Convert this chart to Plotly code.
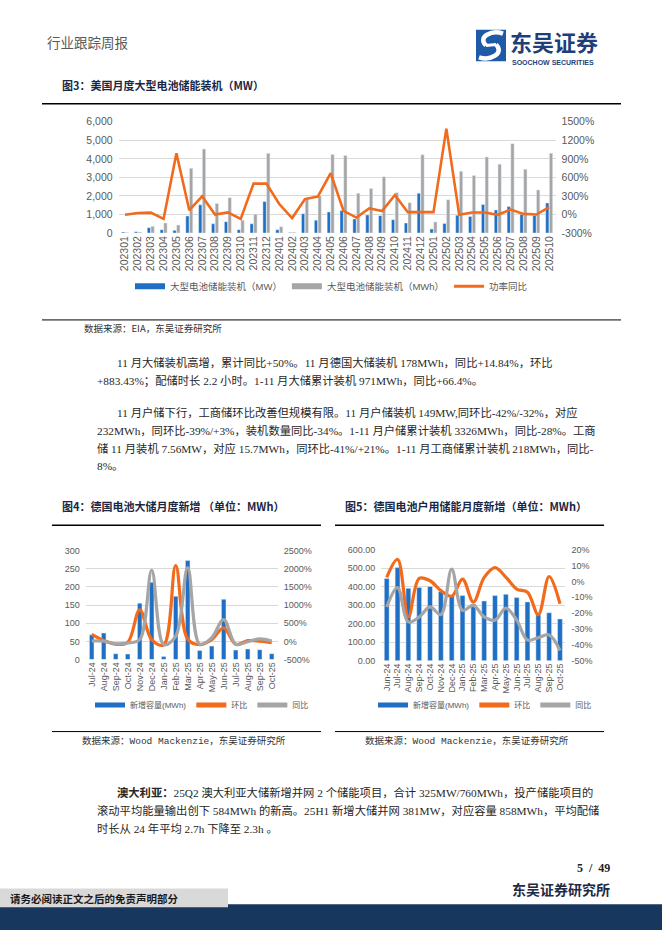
import plotly.graph_objects as go

W, H = 662, 936
def X(px): return px / W
def Y(py): return 1 - py / H

# ---------------- data ----------------
months3 = ['202301','202302','202303','202304','202305','202306','202307','202308','202309','202310','202311','202312',
           '202401','202402','202403','202404','202405','202406','202407','202408','202409','202410','202411','202412',
           '202501','202502','202503','202504','202505','202506','202507','202508','202509','202510']
mw3 = [55, 73, 290, 180, 145, 920, 1520, 500, 610, 180, 500, 1700,
       180, 25, 1040, 690, 1140, 1210, 760, 980, 940, 720, 540, 2150,
       220, 520, 960, 890, 1540, 1250, 1430, 1000, 946, 1625]
mwh3 = [36, 55, 364, 545, 436, 3490, 4527, 1600, 1909, 690, 1018, 4300,
        340, 50, 1850, 2000, 4230, 4180, 2145, 2400, 3030, 2180, 1640, 4220,
        600, 1800, 3330, 3100, 4107, 3714, 4821, 3446, 2321, 4300]
yoy3 = [-5, 25, 30, -72, 990, 70, 295, 0, 35, -72, 500, 500,
        170, -58, 250, 290, 670, 60, -50, 100, 55, 315, 38, 38,
        38, 1390, -5, 32, 32, -5, 80, 10, 0, 118]

months4 = ['Jul-24','Aug-24','Sep-24','Oct-24','Nov-24','Dec-24','Jan-25','Feb-25',
           'Mar-25','Apr-25','May-25','Jun-25','Jul-25','Aug-25','Sep-25','Oct-25']
cap4 = [68, 73, 16, 15, 155, 213, 8, 174, 273, 25, 37, 166, 26, 29, 27, 16]
mom4 = [190, 25, -78, -30, 870, 45, -96, 2090, 60, -88, 50, 370, -82, 20, 5, -35]
yoy4 = [10, 5, -65, -45, 50, 1960, -90, 140, 2030, -80, 100, 600, -80, -10, 70, 10]

months5 = ['Jun-24','Jul-24','Aug-24','Sep-24','Oct-24','Nov-24','Dec-24','Jan-25','Feb-25',
           'Mar-25','Apr-25','May-25','Jun-25','Jul-25','Aug-25','Sep-25','Oct-25']
cap5 = [444, 503, 391, 396, 401, 373, 350, 352, 306, 323, 352, 359, 341, 318, 249, 259, 226]
mom5 = [2.5, 13.9, -22.4, 1.9, 0.4, -5.8, -9.3, 1.4, -13, 2.5, 8.7, 2.7, -4.8, -6.8, -20.9, 3.1, -14.1]
yoy5 = [-16.1, -3.9, -25.5, -22.4, -16.1, -20.9, 7.7, -18.2, -15.1, -22.4, -24.4, -16.8, -24.4, -36.9, -35.4, -33.7, -43.5]

y3_left_ticks = [0, 1000, 2000, 3000, 4000, 5000, 6000]
y3_right_ticks = [-300, 0, 300, 600, 900, 1200, 1500]
y3_right_text = ['-300%', '0%', '300%', '600%', '900%', '1200%', '1500%']
y4_left_ticks = [0, 50, 100, 150, 200, 250, 300]
y4_right_ticks = [-500, 0, 500, 1000, 1500, 2000, 2500]
y4_right_text = ['-500%', '0%', '500%', '1000%', '1500%', '2000%', '2500%']
y5_left_ticks = [0, 100, 200, 300, 400, 500, 600]
y5_right_ticks = [-50, -40, -30, -20, -10, 0, 10, 20]
y5_right_text = ['-50%', '-40%', '-30%', '-20%', '-10%', '0%', '10%', '20%']

BLUE = '#1F6FC5'
GRAY = '#A5A5A5'
ORANGE = '#F26A1B'
TICK = '#595959'
GRID = '#D9D9D9'
CJK = 'Noto Sans CJK SC'
SANS = 'Liberation Sans, Noto Sans CJK SC'

fig = go.Figure()

# ---------------- chart 3 ----------------
fig.add_trace(go.Bar(x=months3, y=mw3, marker_color=BLUE, xaxis='x', yaxis='y', showlegend=False))
fig.add_trace(go.Bar(x=months3, y=mwh3, marker_color=GRAY, xaxis='x', yaxis='y', showlegend=False))
fig.add_trace(go.Scatter(x=months3, y=yoy3, mode='lines', line=dict(color=ORANGE, width=2.6),
                         xaxis='x', yaxis='y2', showlegend=False))
for name, col, w in [('大型电池储能装机（MW）', BLUE, 6), ('大型电池储能装机（MWh）', GRAY, 6), ('功率同比', ORANGE, 3)]:
    fig.add_trace(go.Scatter(x=[None], y=[None], mode='lines', name=name, line=dict(color=col, width=w),
                             xaxis='x', yaxis='y', legend='legend'))

# ---------------- chart 4 ----------------
fig.add_trace(go.Bar(x=months4, y=cap4, marker_color=BLUE, width=0.38, xaxis='x2', yaxis='y3', showlegend=False))
fig.add_trace(go.Scatter(x=months4, y=mom4, mode='lines', line=dict(color=ORANGE, width=3.2, shape='spline'),
                         xaxis='x2', yaxis='y4', showlegend=False))
fig.add_trace(go.Scatter(x=months4, y=yoy4, mode='lines', line=dict(color=GRAY, width=3.2, shape='spline'),
                         xaxis='x2', yaxis='y4', showlegend=False))
for name, col in [('新增容量(MWh)', BLUE), ('环比', ORANGE), ('同比', GRAY)]:
    fig.add_trace(go.Scatter(x=[None], y=[None], mode='lines', name=name, line=dict(color=col, width=5),
                             xaxis='x2', yaxis='y3', legend='legend2'))

# ---------------- chart 5 ----------------
fig.add_trace(go.Bar(x=months5, y=cap5, marker_color=BLUE, width=0.45, xaxis='x3', yaxis='y5', showlegend=False))
fig.add_trace(go.Scatter(x=months5, y=mom5, mode='lines', line=dict(color=ORANGE, width=3.2, shape='spline'),
                         xaxis='x3', yaxis='y6', showlegend=False))
fig.add_trace(go.Scatter(x=months5, y=yoy5, mode='lines', line=dict(color=GRAY, width=3.2, shape='spline'),
                         xaxis='x3', yaxis='y6', showlegend=False))
for name, col in [('新增容量(MWh)', BLUE), ('环比', ORANGE), ('同比', GRAY)]:
    fig.add_trace(go.Scatter(x=[None], y=[None], mode='lines', name=name, line=dict(color=col, width=5),
                             xaxis='x3', yaxis='y5', legend='legend3'))

def xax(dom, anchor, size, cats):
    return dict(domain=dom, anchor=anchor, type='category', showgrid=False, zeroline=False, showline=False,
                ticks='', tickangle=-90, tickmode='array', tickvals=cats, ticktext=cats,
                tickfont=dict(family=SANS, size=size, color=TICK), fixedrange=True)

def yl(dom, anchor, rng, tv, fmt, size):
    return dict(domain=dom, anchor=anchor, range=rng, tickvals=tv, tickformat=fmt, showgrid=True, gridcolor=GRID,
                gridwidth=1, zeroline=False, showline=False, ticks='', ticklabelstandoff=5,
                tickfont=dict(family=SANS, size=size, color=TICK))

def yr(anchor, over, rng, tv, tt, size):
    return dict(anchor=anchor, overlaying=over, side='right', range=rng, tickvals=tv, ticktext=tt,
                showgrid=False, zeroline=False, showline=False, ticks='', ticklabelstandoff=5,
                tickfont=dict(family=SANS, size=size, color=TICK))

d3x = [X(118.6), X(555.6)]; d3y = [Y(230), Y(117.3)]
d4x = [X(85.7), X(277.7)]; d4y = [Y(662), Y(551.7)]
d5x = [X(381.3), X(565.4)]; d5y = [Y(663.3), Y(550.7)]

legfont = dict(family=SANS, color=TICK)

fig.update_layout(
    width=W, height=H, margin=dict(l=0, r=0, t=0, b=0), autosize=False,
    paper_bgcolor='white', plot_bgcolor='white',
    barmode='group', bargap=0.42, bargroupgap=0.12,
    xaxis=xax(d3x, 'y', 10.5, months3),
    yaxis=yl(d3y, 'x', [0, 6000], y3_left_ticks, ',', 10.5),
    yaxis2=yr('x', 'y', [-300, 1500], y3_right_ticks, y3_right_text, 10.5),
    xaxis2=xax(d4x, 'y3', 9, months4),
    yaxis3=yl(d4y, 'x2', [0, 300], y4_left_ticks, 'd', 9),
    yaxis4=yr('x2', 'y3', [-500, 2500], y4_right_ticks, y4_right_text, 9),
    xaxis3=xax(d5x, 'y5', 9, months5),
    yaxis5=yl(d5y, 'x3', [0, 600], y5_left_ticks, '.2f', 9),
    yaxis6=yr('x3', 'y5', [-50, 20], y5_right_ticks, y5_right_text, 9),
    legend=dict(orientation='h', x=X(130), y=Y(284), xanchor='left', yanchor='middle',
                font=dict(size=9.5, **legfont), bgcolor='rgba(0,0,0,0)', itemwidth=30, tracegroupgap=0),
    legend2=dict(orientation='h', x=X(90), y=Y(708), xanchor='left', yanchor='middle',
                 font=dict(size=8, **legfont), bgcolor='rgba(0,0,0,0)', itemwidth=30),
    legend3=dict(orientation='h', x=X(373), y=Y(708), xanchor='left', yanchor='middle',
                 font=dict(size=8, **legfont), bgcolor='rgba(0,0,0,0)', itemwidth=30),
)

shapes = []
def hline(x0, x1, y, w=1.2, col='black'):
    shapes.append(dict(type='line', xref='paper', yref='paper', x0=X(x0), x1=X(x1), y0=Y(y), y1=Y(y),
                       line=dict(color=col, width=w)))
def rect(x0, y0, x1, y1, col):
    shapes.append(dict(type='rect', xref='paper', yref='paper', x0=X(x0), x1=X(x1), y0=Y(y1), y1=Y(y0),
                       fillcolor=col, line=dict(width=0), layer='below'))

hline(42, 621, 99, 1.4)
hline(42, 621, 318, 1.0)
hline(52, 321, 526, 1.4)
hline(52, 321, 735, 1.0)
hline(335, 604, 526, 1.4)
hline(335, 604, 735, 1.0)

# footer
rect(0, 910, 662, 936, '#17375E')
rect(0, 894, 228, 913, '#D9D9D9')

# logo icon
rect(476, 24, 506, 56, '#1F5AA6')
def path(pts_cmds):
    out = []
    for tok in pts_cmds:
        if isinstance(tok, str):
            out.append(tok)
        else:
            out.append('%.5f,%.5f' % (X(tok[0]), Y(tok[1])))
    return ' '.join(out)
shapes.append(dict(type='path', xref='paper', yref='paper',
                   path=path(['M', (503, 28), 'C', (492, 24), (477, 31), (486, 40)]),
                   line=dict(color='white', width=4.5)))
shapes.append(dict(type='path', xref='paper', yref='paper',
                   path=path(['M', (479, 52), 'C', (490, 56), (505, 48), (496, 39)]),
                   line=dict(color='white', width=4.5)))
shapes.append(dict(type='path', xref='paper', yref='paper',
                   path=path(['M', (486, 40), 'L', (496, 39)]),
                   line=dict(color='white', width=3)))
fig.update_layout(shapes=shapes)

ann = []
def text(x, y, s, size=11, col='#222222', fam=CJK, anchor='left'):
    ann.append(dict(x=X(x), y=Y(y), xref='paper', yref='paper', text=s, showarrow=False,
                    xanchor=anchor, yanchor='middle', font=dict(family=fam, size=size, color=col)))

text(45, 36, '行业跟踪周报', 13.5, '#595959')
text(508, 35, '<b>东吴证券</b>', 22, '#1F3F7A')
text(510, 57, '<b>SOOCHOW SECURITIES</b>', 7, '#1F3F7A', 'Liberation Sans')

text(60, 80, '<b>图3：美国月度大型电池储能装机（MW）</b>', 11, '#1A2744')
text(82, 326, '数据来源：EIA，东吴证券研究所', 9.5, '#333333')

body = [
    (115, 361, '11 月大储装机高增，累计同比+50%。11 月德国大储装机 178MWh，同比+14.84%，环比'),
    (95, 379, '+883.43%；配储时长 2.2 小时。1-11 月大储累计装机 971MWh，同比+66.4%。'),
    (115, 412, '11 月户储下行，工商储环比改善但规模有限。11 月户储装机 149MW,同环比-42%/-32%，对应'),
    (95, 430, '232MWh，同环比-39%/+3%，装机数量同比-34%。1-11 月户储累计装机 3326MWh，同比-28%。工商'),
    (95, 448, '储 11 月装机 7.56MW，对应 15.7MWh，同环比-41%/+21%。1-11 月工商储累计装机 218MWh，同比-'),
    (95, 466, '8%。'),
]
for x, y, s in body:
    text(x, y, s, 11.3, '#262626', 'Liberation Serif, Noto Sans CJK SC')

text(60, 507, '<b>图4：德国电池大储月度新增 （单位：MWh）</b>', 11, '#1A2744')
text(343, 507, '<b>图5：德国电池户用储能月度新增（单位：MWh）</b>', 11, '#1A2744')
text(80, 745, '数据来源：Wood Mackenzie，东吴证券研究所', 9.5, '#333333', 'Liberation Mono, Noto Sans CJK SC')
text(363, 745, '数据来源：Wood Mackenzie，东吴证券研究所', 9.5, '#333333', 'Liberation Mono, Noto Sans CJK SC')

aus = [
    (115, 797, '<b>澳大利亚：</b>25Q2 澳大利亚大储新增并网 2 个储能项目，合计 325MW/760MWh，投产储能项目的'),
    (95, 815, '滚动平均能量输出创下 584MWh 的新高。25H1 新增大储并网 381MW，对应容量 858MWh，平均配储'),
    (95, 833, '时长从 24 年平均 2.7h 下降至 2.3h 。'),
]
for x, y, s in aus:
    text(x, y, s, 11.3, '#262626', 'Liberation Serif, Noto Sans CJK SC')

text(612, 873, '<b>5  /  49</b>', 12, '#222222', 'Liberation Serif', 'right')
text(612, 894, '<b>东吴证券研究所</b>', 14, '#1F2A44', CJK, 'right')
text(8, 904, '<b>请务必阅读正文之后的免责声明部分</b>', 10.5, '#1A1A1A')

fig.update_layout(annotations=ann)

fig.write_html("out.html", include_plotlyjs=True, config={'displayModeBar': False},
               post_script="document.body.style.margin='0';document.body.style.overflow='hidden';")
